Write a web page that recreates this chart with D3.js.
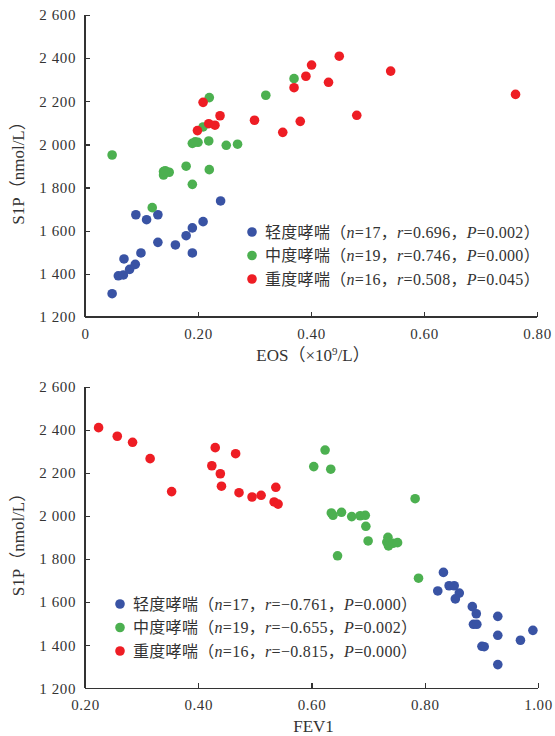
<!DOCTYPE html>
<meta charset="utf-8">
<style>
  body { margin: 0; background: #fff; }
  svg { display: block; }
  .axis path, .axis line { fill: none; stroke: #333; stroke-width: 1.4px; shape-rendering: crispEdges; }
  .axis text { fill: #333; font: 15px "Liberation Serif", serif; letter-spacing: 0.6px; }
  .title { fill: #333; font: 17px "Liberation Serif", serif; }
  .legend text { fill: #333; font: 16px "Liberation Serif", serif; letter-spacing: 0.3px; }
  .cjk { font-family: "Noto Sans CJK SC", sans-serif; }
</style>
<body>
<script src="https://d3js.org/d3.v7.min.js"></script>
<script>

var groups = ["轻度哮喘", "中度哮喘", "重度哮喘"];
var colors = ["#3953a4", "#4cb050", "#ee1d24"];
var nCount = [17, 19, 16];

// panel A: EOS vs S1P
var eosMild = [0.048, 0.059, 0.068, 0.069, 0.079, 0.089, 0.099, 0.090, 0.109, 0.129, 0.129, 0.160, 0.179, 0.190, 0.190, 0.209, 0.240];
var sipMildA = [1308, 1391, 1395, 1469, 1421, 1444, 1497, 1674, 1651, 1674, 1546, 1534, 1577, 1613, 1497, 1642, 1738];
var eosModerate = [0.048, 0.220, 0.320, 0.370, 0.209, 0.190, 0.200, 0.195, 0.219, 0.250, 0.270, 0.139, 0.139, 0.149, 0.142, 0.179, 0.220, 0.190, 0.119];
var sipModerateA = [1951, 2217, 2228, 2305, 2081, 2005, 2010, 2012, 2016, 1996, 2001, 1874, 1858, 1871, 1878, 1899, 1883, 1815, 1707];
var eosSevere = [0.450, 0.401, 0.391, 0.370, 0.431, 0.541, 0.762, 0.481, 0.381, 0.350, 0.300, 0.239, 0.209, 0.219, 0.230, 0.199];
var sipSevereA = [2409, 2368, 2316, 2263, 2288, 2340, 2232, 2135, 2107, 2056, 2112, 2133, 2195, 2096, 2089, 2064];
var rA = ["0.696", "0.746", "0.508"];
var pA = ["0.002", "0.000", "0.045"];
var xTicksA = [0, 0.2, 0.4, 0.6, 0.8];

// panel B: FEV1 vs S1P
var fevMild = [0.833, 0.823, 0.843, 0.852, 0.861, 0.854, 0.884, 0.891, 0.886, 0.892, 0.929, 0.929, 0.991, 0.969, 0.901, 0.905, 0.929];
var sipMildB = [1738, 1652, 1676, 1676, 1642, 1615, 1579, 1546, 1497, 1497, 1534, 1446, 1469, 1423, 1395, 1393, 1310];
var fevModerate = [0.624, 0.604, 0.634, 0.783, 0.635, 0.638, 0.653, 0.671, 0.686, 0.695, 0.696, 0.700, 0.735, 0.733, 0.736, 0.744, 0.752, 0.646, 0.789];
var sipModerateB = [2306, 2229, 2217, 2080, 2014, 2003, 2017, 1997, 2001, 2003, 1952, 1884, 1901, 1879, 1861, 1873, 1876, 1815, 1711];
var fevSevere = [0.224, 0.257, 0.284, 0.315, 0.353, 0.430, 0.466, 0.424, 0.439, 0.441, 0.472, 0.495, 0.511, 0.537, 0.534, 0.541];
var sipSevereB = [2410, 2370, 2342, 2266, 2113, 2317, 2289, 2233, 2196, 2138, 2108, 2088, 2096, 2133, 2065, 2055];
var rB = ["−0.761", "−0.655", "−0.815"];
var pB = ["0.000", "0.002", "0.000"];
var xTicksB = [0.2, 0.4, 0.6, 0.8, 1.0];

var yTicks = [1200, 1400, 1600, 1800, 2000, 2200, 2400, 2600];

var svg = d3.select("body").append("svg")
  .attr("width", 555)
  .attr("height", 736);

function pairs(xs, ys) {
  return xs.map(function(v, i) { return {x: v, y: ys[i]}; });
}

// text built from pieces: {t, cls, it, dy, size}
function pieces(sel, parts) {
  parts.forEach(function(d) {
    var s = sel.append("tspan").text(d.t);
    if (d.cls) s.attr("class", d.cls);
    if (d.it) s.attr("font-style", "italic");
    if (d.dy) s.attr("dy", d.dy);
    if (d.size) s.style("font-size", d.size);
  });
}

function drawPanel(p) {
  var x = d3.scaleLinear().domain(p.xDomain).range([p.left, p.right]);
  var y = d3.scaleLinear().domain([1200, 2600]).range([p.bottom, p.top]);

  var yAxis = d3.axisLeft(y)
    .tickValues(yTicks)
    .tickSize(-5)
    .tickPadding(9)
    .tickFormat(function(d) { return d3.format(",")(d).replace(",", " "); });

  var xAxis = d3.axisBottom(x)
    .tickValues(p.xTicks)
    .tickSize(-5)
    .tickPadding(11)
    .tickFormat(p.xFormat);

  var ga = svg.append("g").attr("class", "axis")
    .attr("transform", "translate(" + p.left + ",0)")
    .call(yAxis);
  ga.select(".domain").attr("d", "M0," + p.top + "H0V" + p.bottom);

  var gx = svg.append("g").attr("class", "axis")
    .attr("transform", "translate(0," + p.bottom + ")")
    .call(xAxis);
  gx.select(".domain").attr("d", "M" + p.left + ",0H" + p.right);

  p.series.forEach(function(s, i) {
    svg.append("g").selectAll("circle")
      .data(s)
    .enter().append("circle")
      .attr("cx", function(d) { return x(d.x); })
      .attr("cy", function(d) { return y(d.y); })
      .attr("r", 4.8)
      .attr("fill", colors[i]);
  });

  // y title
  var yt = svg.append("text")
    .attr("class", "title")
    .attr("transform", "translate(" + 24 + "," + ((p.top + p.bottom) / 2 + 3) + ") rotate(-90)")
    .attr("text-anchor", "middle");
  pieces(yt, [{t: "S1P"}, {t: "（", cls: "cjk"}, {t: "nmol/L"}, {t: "）", cls: "cjk"}]);

  // x title
  var xt = svg.append("text")
    .attr("class", "title")
    .attr("x", (p.left + p.right) / 2 + 2)
    .attr("y", p.bottom + 44)
    .attr("text-anchor", "middle");
  pieces(xt, p.xTitle);

  // legend
  var lg = svg.append("g").attr("class", "legend");
  groups.forEach(function(g, i) {
    var yy = p.legY + i * 23.5;
    lg.append("circle")
      .attr("cx", p.legX).attr("cy", yy).attr("r", 4.8)
      .attr("fill", colors[i]);
    var t = lg.append("text")
      .attr("x", p.legX + 13).attr("y", yy + 5.5);
    pieces(t, [
      {t: g + "（", cls: "cjk"},
      {t: "n", it: true}, {t: "=" + nCount[i]}, {t: "，", cls: "cjk"},
      {t: "r", it: true}, {t: "=" + p.r[i]}, {t: "，", cls: "cjk"},
      {t: "P", it: true}, {t: "=" + p.p[i]}, {t: "）", cls: "cjk"}
    ]);
  });
}

drawPanel({
  xDomain: [0, 0.8], left: 85, right: 537, top: 15, bottom: 317,
  xTicks: xTicksA,
  xFormat: function(d) { return d === 0 ? "0" : d3.format(".2f")(d); },
  xTitle: [{t: "EOS"}, {t: "（", cls: "cjk"}, {t: "×10"}, {t: "9", dy: "-6", size: "11px"}, {t: "/L", dy: "6"}, {t: "）", cls: "cjk"}],
  series: [pairs(eosMild, sipMildA), pairs(eosModerate, sipModerateA), pairs(eosSevere, sipSevereA)],
  r: rA, p: pA, legX: 252, legY: 232
});

drawPanel({
  xDomain: [0.2, 1.0], left: 85, right: 538, top: 386.7, bottom: 688.3,
  xTicks: xTicksB,
  xFormat: d3.format(".2f"),
  xTitle: [{t: "FEV1"}],
  series: [pairs(fevMild, sipMildB), pairs(fevModerate, sipModerateB), pairs(fevSevere, sipSevereB)],
  r: rB, p: pB, legX: 120, legY: 604
});

</script>
